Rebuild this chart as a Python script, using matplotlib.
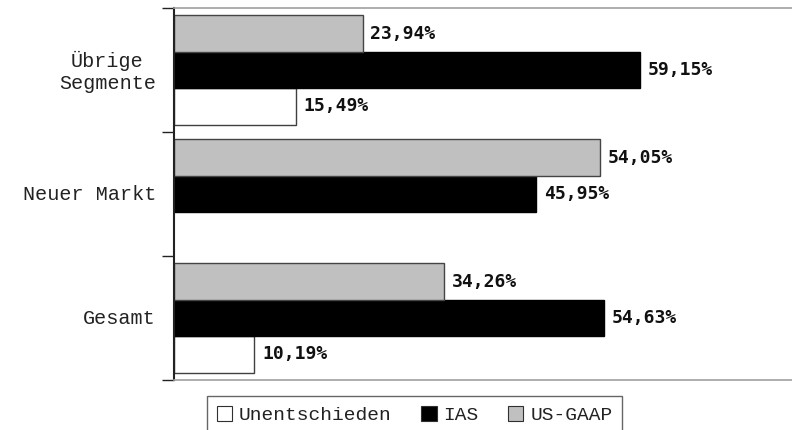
import numpy as np
import matplotlib.pyplot as plt
from matplotlib.patches import Patch

# Categories from bottom to top
categories = ['Gesamt', 'Neuer Markt', 'Übrige\nSegmente']
unentschieden = [10.19, 0.0, 15.49]
ias = [54.63, 45.95, 59.15]
us_gaap = [34.26, 54.05, 23.94]

series_names = ['Unentschieden', 'IAS', 'US-GAAP']
face_colors = ['white', 'black', '#c0c0c0']
edge_colors = ['#404040', 'black', '#454545']

label_font = 'Liberation Mono'
value_font = 'DejaVu Sans Mono'


def fmt_pct(v):
    return f"{v:.2f}".replace('.', ',') + '%'


fig = plt.figure(figsize=(7.92, 4.30), dpi=100)
ax = fig.add_axes([174 / 792, 50 / 430, 630 / 792, 372 / 430])

y = np.arange(len(categories))
h = 0.294
series = [unentschieden, ias, us_gaap]
offsets = [-h, 0.0, h]

for vals, off, fc, ec in zip(series, offsets, face_colors, edge_colors):
    for yi, v in zip(y, vals):
        if v <= 0:
            continue
        ax.barh(yi + off, v, height=h, color=fc, edgecolor=ec, linewidth=1.0)
        ax.text(v + 1.0, yi + off, fmt_pct(v), va='center', ha='left',
                fontsize=13, fontweight='bold', family=value_font,
                color='#111111')

ax.set_xlim(0, 80)
ax.set_ylim(-0.5, len(categories) - 0.5)

# boundary ticks between groups, labels at group centres
ax.set_yticks(np.arange(-0.5, len(categories), 1.0))
ax.set_yticklabels([])
ax.tick_params(axis='y', which='major', length=9, width=1.0, color='#222222')
ax.set_yticks(y + 0.01, minor=True)
ax.set_yticklabels(categories, minor=True, fontsize=14.5, family=label_font,
                   color='#222222')
ax.tick_params(axis='y', which='minor', length=0, pad=13)
for lbl in ax.get_yticklabels(minor=True):
    lbl.set_multialignment('center')
ax.set_xticks([])

ax.spines['right'].set_visible(False)
ax.spines['left'].set_color('#222222')
ax.spines['left'].set_linewidth(1.5)
for s in ('top', 'bottom'):
    ax.spines[s].set_color('#a0a0a0')
    ax.spines[s].set_linewidth(1.2)

handles = [Patch(facecolor=fc, edgecolor='#303030', linewidth=0.8)
           for fc in face_colors]
leg = fig.legend(handles, series_names, loc='upper left', ncol=3,
                 bbox_to_anchor=(207 / 792, 1 - 396 / 430),
                 frameon=True, fancybox=False, edgecolor='#404040',
                 prop={'family': label_font, 'size': 14},
                 handlelength=0.8, handleheight=0.8, handletextpad=0.35,
                 columnspacing=1.5, borderpad=0.5, borderaxespad=0)
leg.get_frame().set_linewidth(1.0)
for t in leg.get_texts():
    t.set_color('#222222')

fig.savefig('out.png', dpi=100)
